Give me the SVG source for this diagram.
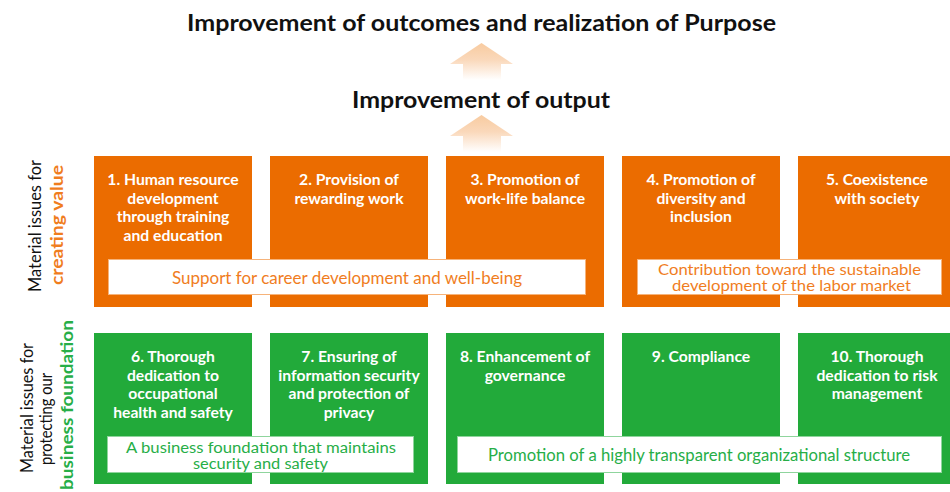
<svg xmlns="http://www.w3.org/2000/svg" width="950" height="492" viewBox="0 0 950 492">
<defs>
<linearGradient id="arrowGrad" x1="0" y1="0" x2="0" y2="1">
<stop offset="0" stop-color="#f8cba0"/>
<stop offset="0.45" stop-color="#fad8ba"/>
<stop offset="1" stop-color="#ffffff"/>
</linearGradient>
<style>
.title{font-family:Lato,"Liberation Sans",sans-serif;font-weight:bold;font-size:23.5px;fill:#111;text-anchor:middle}
.orange{fill:#eb6c00}
.green{fill:#22aa3a}
.bt{font-family:Lato,"Liberation Sans",sans-serif;font-weight:bold;font-size:15.7px;fill:#fff;text-anchor:middle}
.barO{fill:#fff;stroke:#f6b37a;stroke-width:1}
.barG{fill:#fff;stroke:#8fd59d;stroke-width:1}
.btO{font-family:Lato,"Liberation Sans",sans-serif;font-size:16.5px;fill:#f07d1e;text-anchor:middle}
.btG{font-family:Lato,"Liberation Sans",sans-serif;font-size:16.5px;fill:#27ae47;text-anchor:middle}
.two{font-size:15.5px}
.side{font-family:Lato,"Liberation Sans",sans-serif;font-size:16.5px;fill:#111;text-anchor:middle}
.sideO{font-family:Lato,"Liberation Sans",sans-serif;font-size:17.5px;font-weight:bold;fill:#f07d1e;text-anchor:middle}
.sideG{font-family:Lato,"Liberation Sans",sans-serif;font-size:17.5px;font-weight:bold;fill:#27ae47;text-anchor:middle}
.arrow{fill:url(#arrowGrad)}
</style>
</defs>
<rect width="950" height="492" fill="#fff"/>

<g id="title-purpose"><text class="title" x="481.5" y="31" textLength="589" lengthAdjust="spacingAndGlyphs">Improvement of outcomes and realization of Purpose</text></g>
<g id="title-output"><text class="title" x="481" y="108" textLength="258" lengthAdjust="spacingAndGlyphs">Improvement of output</text></g>

<g id="connectors">
<polygon class="arrow" points="481.5,43 513,64 501,64 501,80 463,80 463,64 450,64"/>
<polygon class="arrow" points="481.5,115 513,136 501,136 501,152 463,152 463,136 450,136"/>
</g>

<g id="label-creating">
<text class="side" transform="translate(41,226) rotate(-90)" textLength="132" lengthAdjust="spacingAndGlyphs">Material issues for</text>
<text class="sideO" transform="translate(63,225) rotate(-90)" textLength="120" lengthAdjust="spacingAndGlyphs">creating value</text>
</g>
<g id="label-foundation">
<text class="side" transform="translate(33,408) rotate(-90)" textLength="130" lengthAdjust="spacingAndGlyphs">Material issues for</text>
<text class="side" transform="translate(52,419) rotate(-90)" textLength="92" lengthAdjust="spacingAndGlyphs">protecting our</text>
<text class="sideG" transform="translate(73,405) rotate(-90)" textLength="170" lengthAdjust="spacingAndGlyphs">business foundation</text>
</g>

<g id="issue-1"><rect class="orange" x="94" y="156" width="158" height="151"/>
<text class="bt" x="173" y="185">1. Human resource</text><text class="bt" x="173" y="203.7">development</text><text class="bt" x="173" y="222.3">through training</text><text class="bt" x="173" y="241">and education</text></g>
<g id="issue-2"><rect class="orange" x="270" y="156" width="158" height="151"/>
<text class="bt" x="349" y="185">2. Provision of</text><text class="bt" x="349" y="203.7">rewarding work</text></g>
<g id="issue-3"><rect class="orange" x="446" y="156" width="158" height="151"/>
<text class="bt" x="525" y="185">3. Promotion of</text><text class="bt" x="525" y="203.7">work-life balance</text></g>
<g id="issue-4"><rect class="orange" x="622" y="156" width="158" height="151"/>
<text class="bt" x="701" y="185">4. Promotion of</text><text class="bt" x="701" y="203.7">diversity and</text><text class="bt" x="701" y="222.3">inclusion</text></g>
<g id="issue-5"><rect class="orange" x="798" y="156" width="158" height="151"/>
<text class="bt" x="877" y="185">5. Coexistence</text><text class="bt" x="877" y="203.7">with society</text></g>

<g id="theme-career"><rect class="barO" x="108.5" y="259.5" width="477" height="35"/>
<text class="btO" x="347" y="283.5" textLength="350" lengthAdjust="spacingAndGlyphs">Support for career development and well-being</text></g>
<g id="theme-labor"><rect class="barO" x="637.5" y="259.5" width="304" height="35"/>
<text class="btO two" x="789.5" y="274.5" textLength="263" lengthAdjust="spacingAndGlyphs">Contribution toward the sustainable</text><text class="btO two" x="791.5" y="291" textLength="239" lengthAdjust="spacingAndGlyphs">development of the labor market</text></g>

<g id="issue-6"><rect class="green" x="94" y="333" width="158" height="151"/>
<text class="bt" x="173" y="362">6. Thorough</text><text class="bt" x="173" y="380.7">dedication to</text><text class="bt" x="173" y="399.3">occupational</text><text class="bt" x="173" y="418">health and safety</text></g>
<g id="issue-7"><rect class="green" x="270" y="333" width="158" height="151"/>
<text class="bt" x="349" y="362">7. Ensuring of</text><text class="bt" x="349" y="380.7">information security</text><text class="bt" x="349" y="399.3">and protection of</text><text class="bt" x="349" y="418">privacy</text></g>
<g id="issue-8"><rect class="green" x="446" y="333" width="158" height="151"/>
<text class="bt" x="525" y="362">8. Enhancement of</text><text class="bt" x="525" y="380.7">governance</text></g>
<g id="issue-9"><rect class="green" x="622" y="333" width="158" height="151"/>
<text class="bt" x="701" y="362">9. Compliance</text></g>
<g id="issue-10"><rect class="green" x="798" y="333" width="158" height="151"/>
<text class="bt" x="877" y="362">10. Thorough</text><text class="bt" x="877" y="380.7">dedication to risk</text><text class="bt" x="877" y="399.3">management</text></g>

<g id="theme-safety"><rect class="barG" x="107.5" y="436.5" width="306" height="36"/>
<text class="btG two" x="261" y="452.5" textLength="270" lengthAdjust="spacingAndGlyphs">A business foundation that maintains</text><text class="btG two" x="260.5" y="469" textLength="135" lengthAdjust="spacingAndGlyphs">security and safety</text></g>
<g id="theme-transparent"><rect class="barG" x="457.5" y="436.5" width="484" height="36"/>
<text class="btG" x="699" y="461" textLength="422" lengthAdjust="spacingAndGlyphs">Promotion of a highly transparent organizational structure</text></g>
</svg>
